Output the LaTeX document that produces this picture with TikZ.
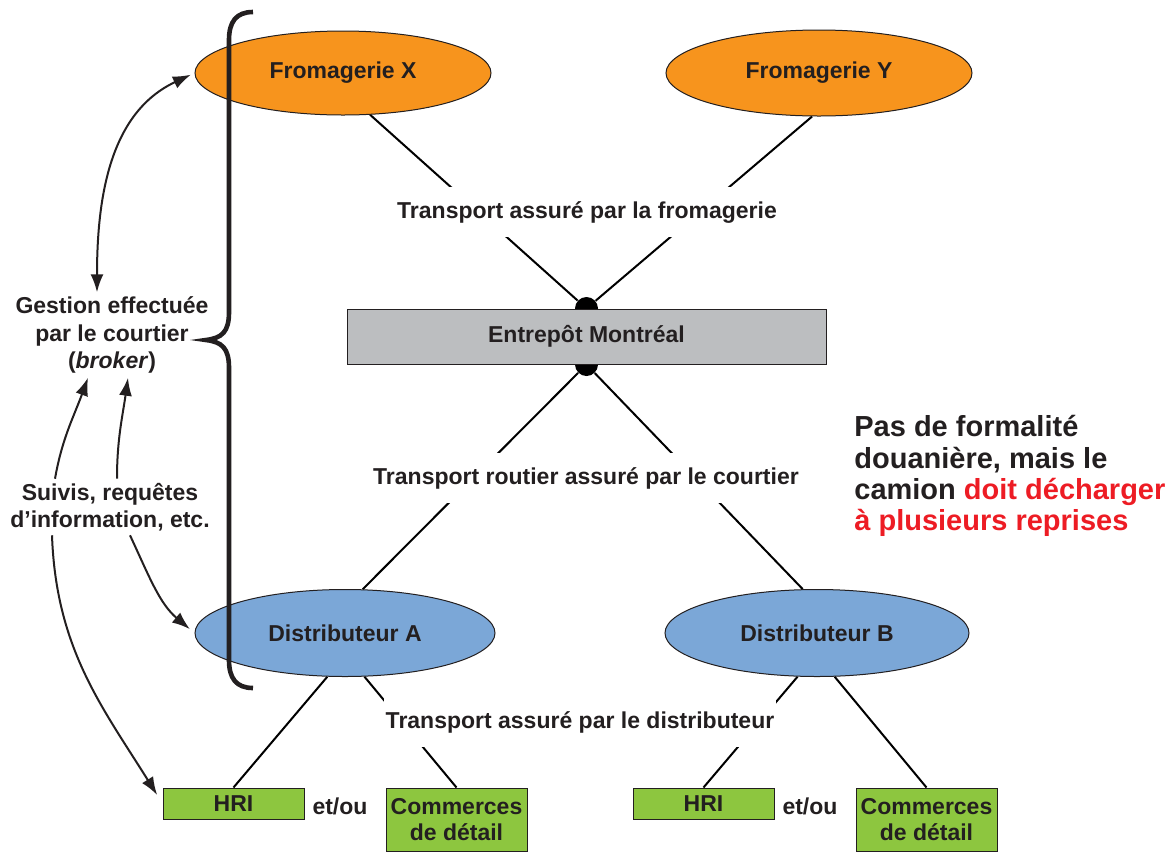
\documentclass[tikz,border=0pt]{standalone}
\usepackage{fontspec}
\setmainfont{Liberation Sans}
\usetikzlibrary{shapes.geometric, arrows.meta, backgrounds}

\definecolor{ink}{HTML}{231F20}
\definecolor{cheese}{HTML}{F7941D}
\definecolor{distblue}{HTML}{7BA7D7}
\definecolor{shopgreen}{HTML}{8DC63F}
\definecolor{depotgrey}{HTML}{BCBEC0}
\definecolor{alertred}{HTML}{ED1C24}

\begin{document}
\begin{tikzpicture}[x=0.5pt, y=-0.5pt, color=ink, >={Latex[length=9pt, width=6.5pt]},
    fromagerie/.style={ellipse, draw, line width=0.5pt, fill=cheese, inner sep=0pt,
      font=\fontsize{11.5}{13.5}\selectfont\bfseries},
    distributeur/.style={fromagerie, fill=distblue},
    depot/.style={rectangle, draw, line width=0.5pt, fill=depotgrey, minimum width=239.5pt,
      minimum height=27.5pt, font=\fontsize{11.5}{13.5}\selectfont\bfseries},
    client/.style={rectangle, draw, line width=0.5pt, fill=shopgreen, minimum width=70.5pt,
      inner sep=0pt, align=center, font=\fontsize{11.5}{13}\selectfont\bfseries},
    jonction/.style={circle, fill, inner sep=0pt, minimum size=11.5pt},
    transport/.style={fill=white, inner xsep=1pt, inner ysep=7pt,
      font=\fontsize{11.5}{13.5}\selectfont\bfseries},
    texte/.style={align=center, inner sep=2pt, font=\fontsize{11.5}{13.75}\selectfont\bfseries},
    lien/.style={line width=1pt},
    suivi/.style={line width=1pt, ->}]

  \useasboundingbox (0,0) rectangle (1174,853);

  % Define fromageries, entrepot and distributeurs
  \node[fromagerie, minimum width=148pt, minimum height=42pt] (fromX) at (343,73) {Fromagerie X};
  \node[fromagerie, minimum width=153pt, minimum height=43pt] (fromY) at (819,73) {Fromagerie Y};
  \node[depot] (entrepot) at (586.5,336.5) {Entrepôt Montréal};
  \node[distributeur, minimum width=150pt, minimum height=43.5pt] (distA) at (345,633) {Distributeur A};
  \node[distributeur, minimum width=152pt, minimum height=43.5pt] (distB) at (817,633) {Distributeur B};

  % Define clients
  \node[client, minimum height=15.5pt] (hriA) at (233.5,803.5) {HRI};
  \node[client, minimum height=31.5pt] (comA) at (456.5,819.5) {Commerces\\de détail};
  \node[client, minimum height=15.5pt] (hriB) at (703.5,803.5) {HRI};
  \node[client, minimum height=31.5pt] (comB) at (926.5,819.5) {Commerces\\de détail};
  \node[texte] (ouA) at (340,806) {et/ou};
  \node[texte] (ouB) at (810,806) {et/ou};

  % Define transport labels
  \node[transport] (trFrom) at (587,212) {Transport assuré par la fromagerie};
  \node[transport] (trCourt) at (586,478) {Transport routier assuré par le courtier};
  \node[transport] (trDist) at (580,722) {Transport assuré par le distributeur};

  % Define links
  \begin{scope}[on background layer]
    \node[jonction] (dotN) at (entrepot.north) {};
    \node[jonction] (dotS) at (entrepot.south) {};
    \draw[lien] (fromX.303) -- (dotN);
    \draw[lien] (fromY.261) -- (dotN);
    \draw[lien] (dotS) -- (distA.68);
    \draw[lien] (dotS) -- (distB.108);
    \draw[lien] (distA.248) -- (hriA.north);
    \draw[lien] (distA.294) -- (comA.north);
    \draw[lien] (distB.246) -- (hriB.north);
    \draw[lien] (distB.292) -- (comB.north);
  \end{scope}

  % Brace
  \draw[line width=2.3pt] (253,12) .. controls (236,12) and (229,22) .. (229,40)
    -- (229,312) .. controls (229,332) and (222,338) .. (206,340)
    .. controls (222,342) and (229,348) .. (229,368)
    -- (229,660) .. controls (229,678) and (236,688) .. (253,688);

  % Courtier
  \node[texte] (gestion) at (112,335) {Gestion effectuée\\par le courtier\\(\textit{broker})};
  \node[texte, font=\fontsize{11.5}{13.5}\selectfont\bfseries] (suivis) at (110,507) {Suivis, requêtes\\d’information, etc.};

  \draw[suivi, <->, shorten >=2pt] ([xshift=-7.5pt]gestion.north) to[out=90, in=205] (fromX.west);
  \draw[suivi] ([xshift=-27.5pt]suivis.north) to[out=80, in=250] ([xshift=-12pt]gestion.south);
  \draw[suivi] ([xshift=3.5pt]suivis.north) to[out=90, in=262] ([xshift=8pt]gestion.south);
  \draw[suivi, shorten >=5pt] ([xshift=-29pt]suivis.south) to[out=-88, in=122] (hriA.west);
  \draw[suivi, shorten >=3pt] ([xshift=10pt]suivis.south) to[out=-65, in=140] (distA.west);

  % Note
  \node[anchor=north west, align=left, inner sep=0pt,
    font=\fontsize{14.5}{15.7}\selectfont\bfseries] (note) at (854,415)
    {Pas de formalité\\douanière, mais le\\camion \textcolor{alertred}{doit décharger}\\\textcolor{alertred}{à plusieurs reprises}};

\end{tikzpicture}
\end{document}
